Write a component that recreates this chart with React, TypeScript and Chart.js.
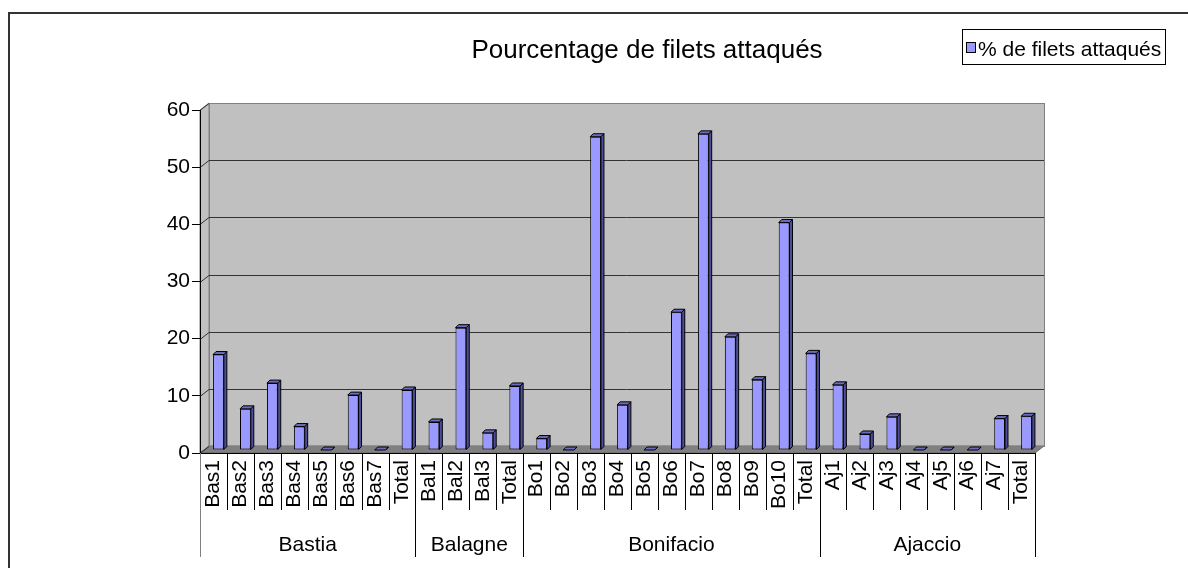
import React, { useEffect, useRef } from "react";
import { Chart, registerables } from "chart.js";

Chart.register(...registerables);

const titleText = "Pourcentage de filets attaqués";
const seriesLabel = "% de filets attaqués";

const groupNames = ["Bastia", "Balagne", "Bonifacio", "Ajaccio"];
const groupSizes = [8, 4, 11, 8];

const categories = [
  "Bas1", "Bas2", "Bas3", "Bas4", "Bas5", "Bas6", "Bas7", "Total",
  "Bal1", "Bal2", "Bal3", "Total",
  "Bo1", "Bo2", "Bo3", "Bo4", "Bo5", "Bo6", "Bo7", "Bo8", "Bo9", "Bo10", "Total",
  "Aj1", "Aj2", "Aj3", "Aj4", "Aj5", "Aj6", "Aj7", "Total",
];

const values = [
  16.7, 7.2, 11.7, 4.1, 0, 9.6, 0, 10.5,
  4.9, 21.4, 3.0, 11.2,
  2.0, 0, 54.8, 7.9, 0, 24.1, 55.3, 19.8, 12.3, 39.8, 16.9,
  11.4, 2.8, 5.8, 0, 0, 0, 5.5, 5.9,
];

const yMin = 0;
const yMax = 60;
const yStep = 10;

const FONT = "'Liberation Sans', Arial, Helvetica, sans-serif";
const BAR_FRONT = "#9999ff";
const BAR_SIDE = "#4d4d99";
const BAR_TOP = "#6b6bbf";
const WALL = "#c0c0c0";
const FLOOR = "#808080";

// depth offsets
const WDX = 9, WDY = -7; // back wall
const BDX = 5, BDY = -3; // bars mid-depth
const BD = 3; // bar depth

const threeD = {
  id: "threeD",
  beforeDraw(chart: any) {
    const ctx = chart.ctx;
    const ca = chart.chartArea;
    const ys = chart.scales.y;
    const top = ys.getPixelForValue(yMax);
    const bottom = ys.getPixelForValue(yMin);
    const L = ca.left, R = ca.right;
    ctx.save();
    // outer border
    ctx.strokeStyle = "#333333";
    ctx.lineWidth = 2;
    ctx.beginPath();
    ctx.moveTo(9, chart.height + 2);
    ctx.lineTo(9, 13);
    ctx.lineTo(chart.width + 2, 13);
    ctx.stroke();

    ctx.lineWidth = 1;
    // back wall
    ctx.fillStyle = WALL;
    ctx.fillRect(L + WDX, top + WDY, R - L, bottom - top);
    // left wall
    ctx.beginPath();
    ctx.moveTo(L, top);
    ctx.lineTo(L + WDX, top + WDY);
    ctx.lineTo(L + WDX, bottom + WDY);
    ctx.lineTo(L, bottom);
    ctx.closePath();
    ctx.fillStyle = WALL;
    ctx.fill();
    ctx.strokeStyle = "#808080";
    ctx.stroke();
    // floor
    ctx.beginPath();
    ctx.moveTo(L, bottom);
    ctx.lineTo(L + WDX, bottom + WDY);
    ctx.lineTo(R + WDX, bottom + WDY);
    ctx.lineTo(R, bottom);
    ctx.closePath();
    ctx.fillStyle = FLOOR;
    ctx.fill();
    ctx.strokeStyle = "#666666";
    ctx.stroke();
    // back wall outline
    ctx.strokeStyle = "#808080";
    ctx.strokeRect(Math.round(L + WDX) + 0.5, Math.round(top + WDY) + 0.5, R - L, bottom - top);
    // gridlines
    for (let v = yMin + yStep; v < yMax; v += yStep) {
      const py = Math.round(ys.getPixelForValue(v)) + 0.5;
      ctx.strokeStyle = "#333333";
      ctx.beginPath();
      ctx.moveTo(L + WDX, py + WDY);
      ctx.lineTo(R + WDX, py + WDY);
      ctx.stroke();
    }
    for (let v = yMin; v <= yMax; v += yStep) {
      const py = Math.round(ys.getPixelForValue(v)) + 0.5;
      ctx.strokeStyle = "#333333";
      ctx.beginPath();
      ctx.moveTo(L, py);
      ctx.lineTo(L + WDX, py + WDY);
      ctx.stroke();
    }
    ctx.restore();
  },
  beforeDatasetsDraw(chart: any) {
    chart.ctx.save();
    chart.ctx.translate(BDX, BDY);
  },
  afterDatasetsDraw(chart: any) {
    const ctx = chart.ctx;
    const meta = chart.getDatasetMeta(0);
    ctx.lineWidth = 1;
    ctx.strokeStyle = "#000000";
    meta.data.forEach((el: any) => {
      const p = el.getProps(["x", "y", "base", "width"], true);
      const l = p.x - p.width / 2;
      const r = p.x + p.width / 2;
      const t = Math.min(p.y, p.base);
      const b = Math.max(p.y, p.base);
      // side
      ctx.beginPath();
      ctx.moveTo(r, t);
      ctx.lineTo(r + BD, t - BD);
      ctx.lineTo(r + BD, b - BD);
      ctx.lineTo(r, b);
      ctx.closePath();
      ctx.fillStyle = BAR_SIDE;
      ctx.fill();
      ctx.stroke();
      // top
      ctx.beginPath();
      ctx.moveTo(l, t);
      ctx.lineTo(l + BD, t - BD);
      ctx.lineTo(r + BD, t - BD);
      ctx.lineTo(r, t);
      ctx.closePath();
      ctx.fillStyle = BAR_TOP;
      ctx.fill();
      ctx.stroke();
    });
    ctx.restore();
  },
  afterDraw(chart: any) {
    const ctx = chart.ctx;
    const xs = chart.scales.x;
    const ca = chart.chartArea;
    const half = (xs.getPixelForValue(1) - xs.getPixelForValue(0)) / 2;
    const axisY = ca.bottom;
    ctx.save();
    // category separators and group boundaries
    const boundaries = new Set<number>();
    let acc = 0;
    boundaries.add(0);
    groupSizes.forEach((s) => { acc += s; boundaries.add(acc); });
    ctx.lineWidth = 1;
    for (let i = 0; i <= categories.length; i++) {
      const px = Math.round(xs.getPixelForValue(i) - half) + 0.5;
      const isGroup = boundaries.has(i);
      ctx.strokeStyle = i === 0 ? "#808080" : "#000000";
      ctx.beginPath();
      ctx.moveTo(px, axisY);
      ctx.lineTo(px, isGroup ? axisY + 104 : axisY + 57);
      ctx.stroke();
    }
    // group labels
    ctx.fillStyle = "#000000";
    ctx.font = `21px ${FONT}`;
    ctx.textAlign = "center";
    ctx.textBaseline = "alphabetic";
    let start = 0;
    groupNames.forEach((g, gi) => {
      const end = start + groupSizes[gi] - 1;
      const cx = (xs.getPixelForValue(start) + xs.getPixelForValue(end)) / 2;
      ctx.fillText(g, cx, axisY + 98);
      start += groupSizes[gi];
    });
    // title
    ctx.font = `26px ${FONT}`;
    ctx.textAlign = "center";
    ctx.fillText(titleText, 647, 58);
    // legend
    const ds = chart.data.datasets[0];
    ctx.strokeStyle = "#000000";
    ctx.strokeRect(962.5, 29.5, 203, 35);
    ctx.fillStyle = ds.backgroundColor;
    ctx.fillRect(966.5, 42.5, 9, 10);
    ctx.strokeRect(966.5, 42.5, 9, 10);
    ctx.fillStyle = "#000000";
    ctx.font = `21px ${FONT}`;
    ctx.textAlign = "left";
    ctx.fillText(ds.label, 978, 56);
    ctx.restore();
  },
};

export default function App() {
  const ref = useRef<HTMLCanvasElement | null>(null);
  useEffect(() => {
    if (!ref.current) return;
    const chart = new Chart(ref.current, {
      type: "bar",
      data: {
        labels: categories,
        datasets: [
          {
            label: seriesLabel,
            data: values,
            backgroundColor: BAR_FRONT,
            borderColor: "#000000",
            borderWidth: 1,
            borderSkipped: false,
            categoryPercentage: 1,
            barPercentage: 0.4,
            clip: false as any,
          },
        ],
      },
      options: {
        responsive: false,
        animation: false,
        layout: { padding: { top: 110, right: 153, left: 0, bottom: 0 } },
        plugins: {
          legend: { display: false },
          title: { display: false },
          tooltip: { enabled: false },
        },
        scales: {
          x: {
            offset: true,
            grid: { display: false, drawOnChartArea: false, drawTicks: false },
            border: { display: true, color: "#000000", width: 1 },
            ticks: {
              autoSkip: false,
              minRotation: 90,
              maxRotation: 90,
              padding: 7,
              color: "#000000",
              font: { family: FONT, size: 21 },
            },
            afterFit: (s: any) => { s.height = 115; },
          },
          y: {
            min: yMin,
            max: yMax,
            grid: { drawOnChartArea: false, drawTicks: true, tickLength: 8, color: "#000000" },
            border: { display: true, color: "#000000", width: 1 },
            ticks: {
              stepSize: yStep,
              padding: 2,
              color: "#000000",
              font: { family: FONT, size: 21 },
            },
            afterFit: (s: any) => { s.width = 200; },
          },
        },
      },
      plugins: [threeD],
    });
    return () => chart.destroy();
  }, []);
  return (
    <div style={{ position: "fixed", left: 0, top: 0, width: 1188, height: 568, background: "#ffffff" }}>
      <canvas ref={ref} width={1188} height={568} />
    </div>
  );
}
